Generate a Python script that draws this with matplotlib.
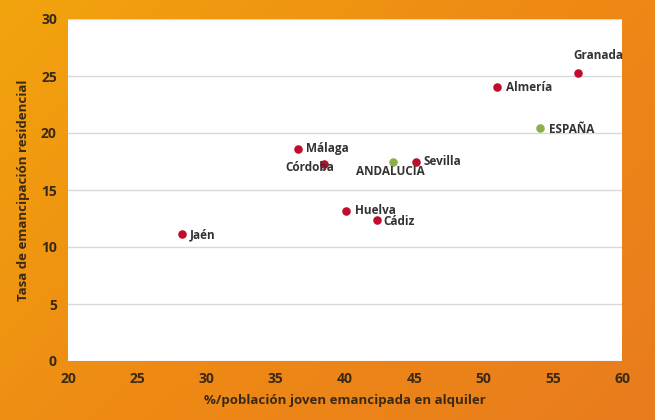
import numpy as np
import matplotlib
matplotlib.use("Agg")
import matplotlib.pyplot as plt
from matplotlib.colors import LinearSegmentedColormap

names = ["Jaén", "Málaga", "Córdoba", "Huelva", "Cádiz", "ANDALUCIA", "Sevilla", "Almería", "ESPAÑA", "Granada"]
x_vals = [28.2, 36.6, 38.5, 40.1, 42.3, 43.5, 45.1, 51.0, 54.1, 56.8]
y_vals = [11.1, 18.6, 17.3, 13.2, 12.4, 17.5, 17.5, 24.0, 20.4, 25.3]
groups = ["prov", "prov", "prov", "prov", "prov", "agg", "prov", "prov", "agg", "prov"]
x_ticks = [20, 25, 30, 35, 40, 45, 50, 55, 60]
y_ticks = [0, 5, 10, 15, 20, 25, 30]

label_offsets = {
    "Jaén": (6, 0, "left", "center"),
    "Málaga": (6, 0, "left", "center"),
    "Córdoba": (7, -3, "right", "center"),
    "Huelva": (6, 0, "left", "center"),
    "Cádiz": (5, -1, "left", "center"),
    "ANDALUCIA": (-2, -7, "center", "center"),
    "Sevilla": (6, 0, "left", "center"),
    "Almería": (6, 0, "left", "center"),
    "ESPAÑA": (6, -1, "left", "center"),
    "Granada": (-3, 12, "left", "center"),
}

plt.rcParams['font.family'] = ['Open Sans', 'DejaVu Sans']
fig = plt.figure(figsize=(6.55, 4.2), dpi=100)

# gradient background
bg = fig.add_axes([0, 0, 1, 1], zorder=-10)
bg.axis("off")
xx, yy = np.meshgrid(np.linspace(0, 1, 200), np.linspace(0, 1, 200))
t = (xx * 0.6 + yy * 0.4)
cmap = LinearSegmentedColormap.from_list("og", ["#F2A40E", "#EE8A14", "#E97C1E"])
bg.imshow(t, cmap=cmap, aspect="auto", extent=[0, 1, 0, 1], origin="upper")

ax = fig.add_axes([68/655, 59/420, 554/655, 342/420])
ax.set_facecolor("white")
ax.set_xlim(20, 60)
ax.set_ylim(0, 30)
ax.set_xticks(x_ticks)
ax.set_yticks(y_ticks)
ax.grid(axis="y", color="#D9D9D9", linewidth=1)
ax.set_axisbelow(True)
for s in ax.spines.values():
    s.set_visible(False)
ax.tick_params(length=0, labelsize=10, labelcolor="#3A2A14", pad=8)
for lab in ax.get_xticklabels() + ax.get_yticklabels():
    lab.set_fontweight("bold")

colors = {"prov": "#C00D2C", "agg": "#8DAF4A"}
for n, x, y, g in zip(names, x_vals, y_vals, groups):
    ax.scatter([x], [y], s=38, color=colors[g], zorder=3, linewidths=0)
    dx, dy, ha, va = label_offsets[n]
    ax.annotate(n, (x, y), xytext=(dx, dy), textcoords="offset points",
                ha=ha, va=va, fontsize=8.5, fontweight="bold", color="#333333", zorder=4)

ax.set_xlabel("%/población joven emancipada en alquiler", fontsize=9.5,
              fontweight="bold", color="#3A2A14", labelpad=6)
ax.set_ylabel("Tasa de emancipación residencial", fontsize=9.5,
              fontweight="bold", color="#3A2A14", labelpad=8)

fig.savefig("out.png", dpi=100)
